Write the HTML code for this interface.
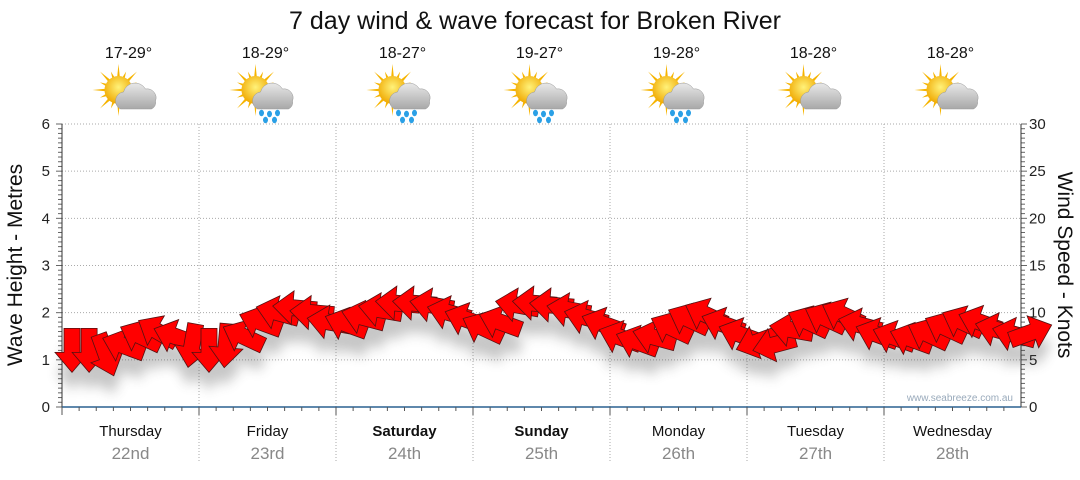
<!DOCTYPE html>
<html><head><meta charset="utf-8"><style>
body{margin:0;background:#fff;width:1080px;height:475px;overflow:hidden;font-family:"Liberation Sans",sans-serif}
</style></head><body>
<svg id="chart" width="1080" height="475" xmlns="http://www.w3.org/2000/svg" font-family="Liberation Sans, DejaVu Sans, sans-serif">
<defs>
<filter id="sh" x="-50%" y="-50%" width="200%" height="200%"><feGaussianBlur stdDeviation="6"/></filter>
<radialGradient id="sun" cx="50%" cy="40%" r="60%"><stop offset="0" stop-color="#fff27a"/><stop offset="1" stop-color="#f0a800"/></radialGradient>
<linearGradient id="cloud" x1="0" y1="0" x2="0" y2="1"><stop offset="0" stop-color="#e8e8e8"/><stop offset="1" stop-color="#a8a8a8"/></linearGradient>
</defs>
<text x="535" y="29" text-anchor="middle" font-size="25" fill="#111">7 day wind &amp; wave forecast for Broken River</text>
<g id="grid"></g><g id="axes"></g><g id="icons"></g><g id="shadows" filter="url(#sh)" opacity="0.3"></g><g id="arrows"></g>
<text transform="translate(22,265) rotate(-90)" text-anchor="middle" font-size="21" fill="#111">Wave Height - Metres</text>
<text transform="translate(1058,265) rotate(90)" text-anchor="middle" font-size="21" fill="#111">Wind Speed - Knots</text>
<text x="1013" y="401" text-anchor="end" font-size="10" fill="#9ab">www.seabreeze.com.au</text>
</svg>
<script>
const days=["Thursday","Friday","Saturday","Sunday","Monday","Tuesday","Wednesday"];
const dates=["22nd","23rd","24th","25th","26th","27th","28th"];
const temps=["17-29°","18-29°","18-27°","19-27°","19-28°","18-28°","18-28°"];
const rain=[false,true,true,true,true,false,false];
const boldDays=[false,false,true,true,false,false,false];
const waveTicks=[0,1,2,3,4,5,6];
const windTicks=[0,5,10,15,20,25,30];
const windKnots=[6,6,5.5,6.5,7.5,8,7.5,6.5, 6,6.5,7.5,9,10,10.5,10,9, 8.8,9.5,10.3,11,11,10.8,10,9.3, 8.4,9,10.8,11,10.8,10.3,9.5,8.8, 7.4,6.9,7.4,8.4,9.3,9.8,8.8,7.7, 6.9,6.6,8.2,9,9.4,9.8,8.7,7.7, 7.4,7.2,7.7,8.4,9,9,8.2,7.7,7.9];
const windDir=[90,90,70,200,205,210,200,100, 90,95,205,200,195,185,185,190, 200,195,190,185,185,190,195,200, 205,200,190,185,185,190,195,200, 200,200,195,205,205,205,200,200, 160,165,190,205,205,205,195,200, 200,200,205,205,205,200,195,195,-20];
const X0=62,X1=1021,Y0=407,Y1=124;
const dayW=(X1-X0)/7;
const xs=i=>X0+dayW*i/8+10;
function yM(m){return Y0-(Y0-Y1)*m/6;}
function yK(k){return Y0-(Y0-Y1)*k/30;}
const NS="http://www.w3.org/2000/svg";
function mk(p,t,a){const e=document.createElementNS(NS,t);for(const k in a)e.setAttribute(k,a[k]);p.appendChild(e);return e;}
const grid=document.getElementById('grid'),axes=document.getElementById('axes'),icons=document.getElementById('icons');
waveTicks.forEach(m=>{if(m>0){const l=mk(grid,'line',{x1:X0,x2:X1,y1:yM(m),y2:yM(m),stroke:'#aaa','stroke-dasharray':'1,2'});

}
const t=mk(axes,'text',{x:X0-12,y:yM(m)+5,'text-anchor':'end','font-size':15,fill:'#222'});t.textContent=m;

});
windTicks.forEach(k=>{const t=mk(axes,'text',{x:X1+8,y:yK(k)+5,'font-size':15,fill:'#222'});t.textContent=k;

});
for(let i=0;i<=60;i++){const y=Y0-(Y0-Y1)*i/60;const w=i%10==0?6:4;
mk(axes,'line',{x1:X0-w,x2:X0,y1:y,y2:y,stroke:'#666'});mk(axes,'line',{x1:X1,x2:X1+w,y1:y,y2:y,stroke:'#666'});}
mk(axes,'line',{x1:X0,x2:X0,y1:Y1,y2:Y0,stroke:'#333'});
mk(axes,'line',{x1:X1,x2:X1,y1:Y1,y2:Y0,stroke:'#333'});
mk(axes,'line',{x1:X0,x2:X1,y1:Y0,y2:Y0,stroke:'#2a6090','stroke-width':1.5});
for(let i=0;i<56;i++){const x=X0+dayW*i/8;mk(axes,'line',{x1:x,x2:x,y1:Y0,y2:Y0+(i%8==0?8:4),stroke:'#555'});}
days.forEach((d,i)=>{const cx=X0+dayW*(i+0.5);
if(i>0){const l=mk(grid,'line',{x1:X0+dayW*i,x2:X0+dayW*i,y1:Y1,y2:Y0+55,stroke:'#aaa','stroke-dasharray':'1,2'});

}
const t=mk(axes,'text',{x:cx,y:436,'text-anchor':'middle','font-size':15,fill:'#111','font-weight':boldDays[i]?'bold':'normal'});t.textContent=d;


const t2=mk(axes,'text',{x:cx,y:459,'text-anchor':'middle','font-size':17,fill:'#888'});t2.textContent=dates[i];


const t3=mk(icons,'text',{x:cx-2,y:58,'text-anchor':'middle','font-size':16,fill:'#111'});t3.textContent=temps[i];


const g=mk(icons,'g',{transform:`translate(${cx-2},95)`});


for(let r=0;r<16;r++){const a=r*Math.PI/8;mk(g,'polygon',{points:`${-10+Math.cos(a-0.12)*12},${-5+Math.sin(a-0.12)*12} ${-10+Math.cos(a)*(r%2?20:26)},${-5+Math.sin(a)*(r%2?20:26)} ${-10+Math.cos(a+0.12)*12},${-5+Math.sin(a+0.12)*12}`,fill:'#f6b400'});}
mk(g,'circle',{cx:-10,cy:-5,r:14,fill:'url(#sun)'});
mk(g,'path',{d:'M-8,14 a9,9 0 0 1 3,-17 a12,12 0 0 1 22,-3 a9,9 0 0 1 10,12 a7,7 0 0 1 -4,8 z',fill:'url(#cloud)',stroke:'#999','stroke-width':0.5});
if(rain[i]){[[-4,18],[4,19],[12,18],[0,25],[9,25]].forEach(p=>mk(g,'ellipse',{cx:p[0],cy:p[1],rx:2.5,ry:3.2,fill:'#2aa0e6'}));}
});
const shadows=document.getElementById('shadows'),arrows=document.getElementById('arrows');
const shape="M-22,-8 L2,-8 L2,-17 L22,0 L2,17 L2,8 L-22,8 Z";
windKnots.forEach((k,i)=>{const x=xs(i),y=yK(k);
mk(shadows,'path',{d:shape,transform:`translate(${x},${y+18}) rotate(${windDir[i]})`,fill:'#444'});});
windKnots.forEach((k,i)=>{const x=xs(i),y=yK(k);
const a=mk(arrows,'path',{d:shape,transform:`translate(${x},${y}) rotate(${windDir[i]})`,fill:'#ff0000',stroke:'#551111','stroke-width':0.8});

});
</script>
</body></html>
